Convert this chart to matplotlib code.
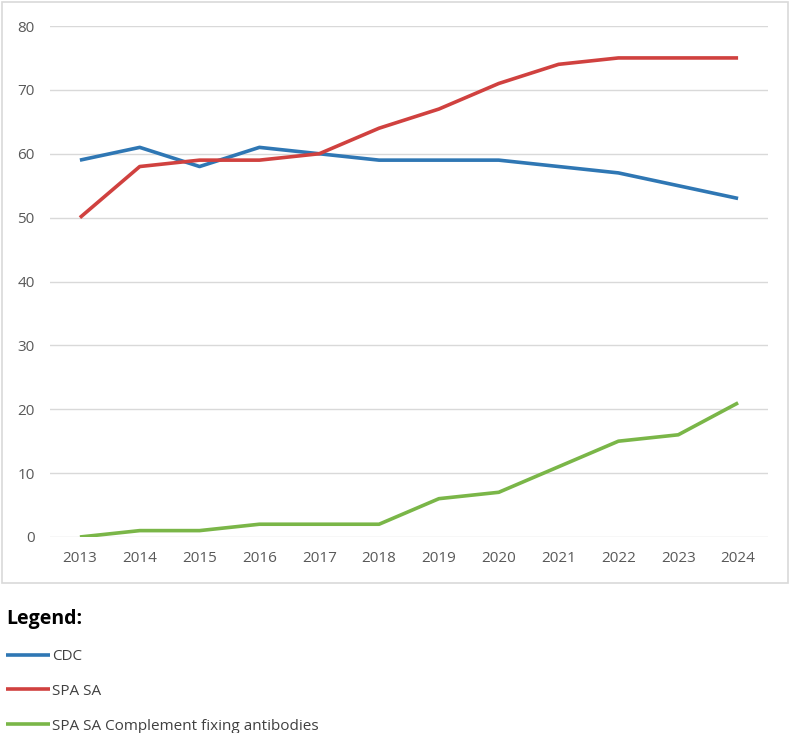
import matplotlib.pyplot as plt
from matplotlib.patches import Rectangle

# data
years = ['2013', '2014', '2015', '2016', '2017', '2018',
         '2019', '2020', '2021', '2022', '2023', '2024']
cdc = [59, 61, 58, 61, 60, 59, 59, 59, 58, 57, 55, 53]
spa_sa = [50, 58, 59, 59, 60, 64, 67, 71, 74, 75, 75, 75]
spa_cfa = [0, 1, 1, 2, 2, 2, 6, 7, 11, 15, 16, 21]

series_names = ['CDC', 'SPA SA', 'SPA SA Complement fixing antibodies']
series_colors = ['#2f77b4', '#d0413f', '#7ab648']

plt.rcParams['font.family'] = ['Open Sans', 'DejaVu Sans']

fig = plt.figure(figsize=(7.96, 7.33), dpi=100)
W, H = 796, 733

# outer chart border
fig.add_artist(Rectangle((2 / W, 1 - 583 / H), 786 / W, 581 / H,
                         transform=fig.transFigure, fill=False,
                         edgecolor='#d9d9d9', linewidth=1.2))

ax = fig.add_axes([50 / W, 1 - 537 / H, 718 / W, 511 / H])

x = range(len(years))
for vals, name, col in zip([cdc, spa_sa, spa_cfa], series_names, series_colors):
    ax.plot(x, vals, color=col, linewidth=2.6, label=name,
            solid_joinstyle='round', solid_capstyle='butt', zorder=3)

ax.set_xlim(-0.5, len(years) - 0.5)
ax.set_ylim(0, 80)
ax.set_yticks(range(0, 81, 10))
ax.set_xticks(list(x))
ax.set_xticklabels(years)
ax.grid(axis='y', color='#d9d9d9', linewidth=1)
ax.set_axisbelow(True)
for s in ax.spines.values():
    s.set_visible(False)
ax.tick_params(length=0, labelsize=11, labelcolor='#595959')
ax.tick_params(axis='y', pad=11)
ax.tick_params(axis='x', pad=10)

leg = ax.legend(loc='upper left', bbox_to_anchor=(6 / W, 1 - 609 / H),
                bbox_transform=fig.transFigure, frameon=False,
                title='Legend:', alignment='left', fontsize=11,
                handlelength=2.9, handletextpad=0.1, labelspacing=1.3,
                borderpad=0, borderaxespad=0)
leg.get_title().set_fontweight('bold')
leg.get_title().set_fontsize(14)
leg.get_title().set_color('black')
for t in leg.get_texts():
    t.set_color('#404040')

fig.savefig('out.png', dpi=100)
